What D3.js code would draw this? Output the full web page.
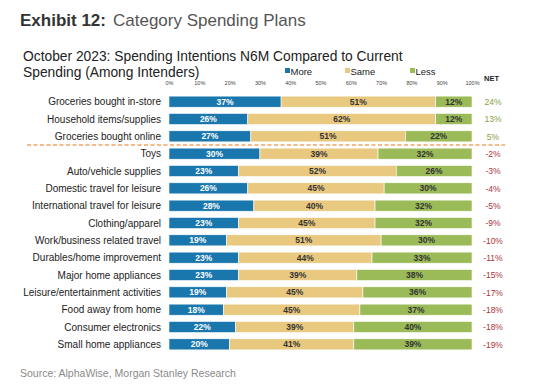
<!DOCTYPE html>
<html>
<head>
<meta charset="utf-8">
<script src="https://cdn.jsdelivr.net/npm/d3@7"></script>
<style>
  body { margin: 0; background: #fff; }
  svg { display: block; font-family: "Liberation Sans", Arial, sans-serif; }
</style>
</head>
<body>
<script>
const categories = [
  "Groceries bought in-store", "Household items/supplies", "Groceries bought online",
  "Toys", "Auto/vehicle supplies", "Domestic travel for leisure",
  "International travel for leisure", "Clothing/apparel", "Work/business related travel",
  "Durables/home improvement", "Major home appliances", "Leisure/entertainment activities",
  "Food away from home", "Consumer electronics", "Small home appliances"
];
const more = [37, 26, 27, 30, 23, 26, 28, 23, 19, 23, 23, 19, 18, 22, 20];
const same = [51, 62, 51, 39, 52, 45, 40, 45, 51, 44, 39, 45, 45, 39, 41];
const less = [12, 12, 22, 32, 26, 30, 32, 32, 30, 33, 38, 36, 37, 40, 39];
const net = [24, 13, 5, -2, -3, -4, -5, -9, -10, -11, -15, -17, -18, -18, -19];
const tickValues = [0, 10, 20, 30, 40, 50, 60, 70, 80, 90, 100];
const seriesNames = ["More", "Same", "Less"];
const colors = ["#1a77ae", "#e9c97f", "#9bbb59"];

const width = 550, height = 392;
const svg = d3.select("body").append("svg")
  .attr("width", width)
  .attr("height", height);

// title
const title = svg.append("text").attr("x", 20).attr("y", 26).attr("font-size", 17);
title.append("tspan").attr("font-weight", "bold").attr("fill", "#333").text("Exhibit 12:");
title.append("tspan").attr("dx", 7).attr("fill", "#555").text("Category Spending Plans");

svg.append("text").attr("x", 23).attr("y", 61).attr("font-size", 13.8).attr("fill", "#222")
  .text("October 2023: Spending Intentions N6M Compared to Current");
svg.append("text").attr("x", 23).attr("y", 77).attr("font-size", 13.8).attr("fill", "#222")
  .text("Spending (Among Intenders)");

const x = d3.scaleLinear().domain([0, 100]).range([169, 472]);
const y = d3.scaleBand().domain(categories).range([93, 353]).paddingInner(0.36).paddingOuter(0.18);

// axis tick labels
const axis = d3.axisTop(x).tickValues(tickValues).tickFormat(d => d + "%").tickSize(0);
const ax = svg.append("g").attr("transform", "translate(0,88)").call(axis);
ax.select(".domain").remove();
ax.selectAll("text").attr("font-size", 5.5).attr("fill", "#444").attr("font-family", "Liberation Sans, Arial, sans-serif");

// legend
const legend = svg.append("g");
const legendX = [285, 345, 410];
seriesNames.forEach((n, i) => {
  legend.append("rect").attr("x", legendX[i]).attr("y", 68).attr("width", 5).attr("height", 5).attr("fill", colors[i]);
  legend.append("text").attr("x", legendX[i] + 5.5).attr("y", 74.5).attr("font-size", 9.5).attr("fill", "#222").text(n);
});
svg.append("text").attr("x", 484).attr("y", 81).attr("font-size", 7.5).attr("font-weight", "bold").attr("fill", "#222").text("NET");

// stacked bars
const rows = categories.map((c, i) => ({ cat: c, More: more[i], Same: same[i], Less: less[i], net: net[i] }));
const stack = d3.stack().keys(seriesNames)(rows);

const groups = svg.selectAll("g.series").data(stack).join("g").attr("class", "series")
  .attr("fill", (d, i) => colors[i]);

groups.selectAll("rect").data(d => d).join("rect")
  .attr("x", d => x(d[0]))
  .attr("y", d => y(d.data.cat))
  .attr("width", d => x(Math.min(d[1], 100)) - x(d[0]))
  .attr("height", y.bandwidth())
  .attr("stroke", "#fff")
  .attr("stroke-width", 0.6);

groups.selectAll("text").data((d, i) => d.map(v => ({ v, i, key: d.key }))).join("text")
  .attr("x", d => (x(d.v[0]) + x(Math.min(d.v[1], 100))) / 2)
  .attr("y", d => y(d.v.data.cat) + y.bandwidth() / 2 + 3)
  .attr("text-anchor", "middle")
  .attr("font-size", 8.5)
  .attr("font-weight", "bold")
  .attr("fill", d => d.i === 0 ? "#fff" : "#333")
  .text(d => d.v.data[d.key] + "%");

// category labels
svg.append("g").selectAll("text").data(categories).join("text")
  .attr("x", 161)
  .attr("y", d => y(d) + y.bandwidth() / 2 + 3.5)
  .attr("text-anchor", "end")
  .attr("font-size", 10)
  .attr("fill", "#222")
  .text(d => d);

// net labels
svg.append("g").selectAll("text").data(rows).join("text")
  .attr("x", 493)
  .attr("y", d => y(d.cat) + y.bandwidth() / 2 + 3.2)
  .attr("text-anchor", "middle")
  .attr("font-size", 8.5)
  .attr("fill", d => d.net >= 0 ? "#86a23f" : "#a8343c")
  .text(d => d.net + "%");

// dashed separator
const sepY = (y(categories[2]) + y.bandwidth() + y(categories[3])) / 2;
svg.append("line").attr("x1", 27).attr("x2", 505).attr("y1", sepY).attr("y2", sepY)
  .attr("stroke", "#f4a261").attr("stroke-width", 1.3).attr("stroke-dasharray", "4,2.5");

svg.append("text").attr("x", 20).attr("y", 377).attr("font-size", 10.5).attr("fill", "#8a8a8a")
  .text("Source: AlphaWise, Morgan Stanley Research");
</script>
</body>
</html>
